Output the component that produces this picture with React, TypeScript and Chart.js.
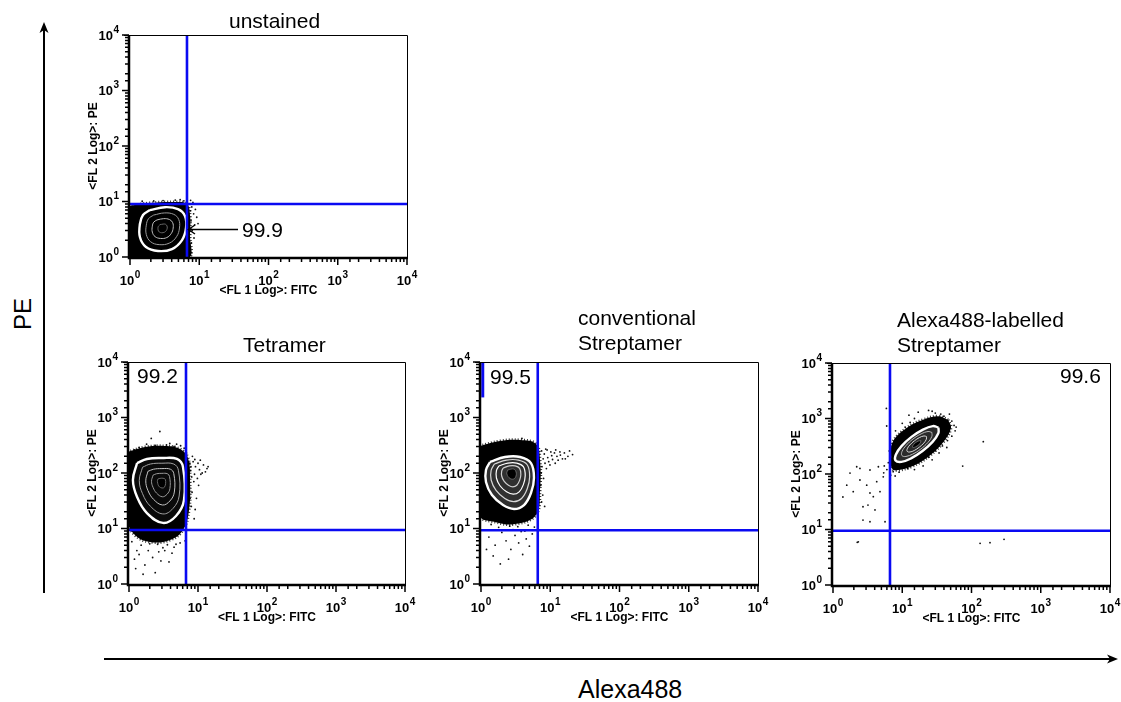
import React, { useEffect, useRef } from 'react';
import { Chart, registerables } from 'chart.js';

Chart.register(...registerables);

type Pt = [number, number];

// ---------------- data ----------------
const tickBase = '10';
const tickExponents = ['0', '1', '2', '3', '4'];
const axisMin = 1;
const axisMax = 10000;
const xAxisTitle = '<FL 1 Log>: FITC';
const yAxisTitle = '<FL 2 Log>: PE';
const panelTitles = [['unstained'], ['Tetramer'], ['conventional', 'Streptamer'], ['Alexa488-labelled', 'Streptamer']];
const quadrantPercents = ['99.9', '99.2', '99.5', '99.6'];
const gateFITC = [6.65, 6.7, 6.6, 6.65];
const gatePE = [9.0, 9.4, 9.3, 9.5];
const edgeBarPE = [2300, 10000];
const edgeBarFITC = 1.06;
const bigXLabel = 'Alexa488';
const bigYLabel = 'PE';

// panel 1: unstained
const p1Halo: Pt[] = [[0.95, 8.3], [1.94, 9.4], [4.47, 9.8], [6.65, 9.0], [7.35, 5.7], [7.35, 2.49], [6.88, 0.95], [0.95, 0.95]];
const p1Ring0: Pt[] = [[1.94, 7.0], [3.2, 7.9], [4.93, 7.3], [6.22, 5.5], [6.44, 3.33], [5.64, 2.02], [4.04, 1.39], [2.54, 1.28], [1.7, 1.51], [1.39, 2.29], [1.39, 3.93], [1.54, 5.7]];
const p1Ring1: Pt[] = [[2.19, 5.69], [3.13, 6.22], [4.28, 5.87], [5.05, 4.76], [5.18, 3.33], [4.7, 2.32], [3.7, 1.78], [2.64, 1.67], [1.99, 1.88], [1.72, 2.54], [1.72, 3.75], [1.85, 4.9]];
const p1Ring2: Pt[] = [[2.45, 4.65], [3.06, 4.91], [3.72, 4.73], [4.13, 4.16], [4.2, 3.32], [3.94, 2.65], [3.4, 2.24], [2.75, 2.16], [2.3, 2.33], [2.1, 2.81], [2.1, 3.58], [2.2, 4.24]];
const p1Core: Pt[] = [[2.72, 3.85], [3.27, 3.88], [3.45, 3.31], [3.14, 2.79], [2.64, 2.83], [2.54, 3.43]];
const p1Dots: Pt[] = [[7.8, 8], [8.3, 6], [7.6, 4.5], [8.8, 7.2], [7.9, 3], [8.4, 2.2], [7.7, 1.8], [9.2, 5.2], [8.1, 9.6], [7.5, 10.5], [6.0, 10.3], [4.5, 10.6], [3.0, 10.4], [2.2, 10.2], [1.5, 10.1], [5.3, 10.8], [7.6, 1.2], [8.6, 3.8], [7.5, 6.8], [9.6, 4.0]];

// panel 2: Tetramer
const p2Halo: Pt[] = [[0.95, 239], [1.71, 294], [3.32, 306], [5.48, 271], [7.16, 186], [7.66, 75], [7.41, 21.5], [6.06, 9.4], [3.93, 6.2], [2.01, 5.7], [1.22, 7.6], [0.95, 14.2]];
const p2Ring0: Pt[] = [[1.31, 151], [1.82, 179], [3.0, 186], [4.96, 179], [6.06, 128], [6.27, 32.6], [4.8, 16.8], [3.11, 12.6], [1.82, 19], [1.31, 37], [1.14, 75]];
const p2Ring1: Pt[] = [[1.57, 127], [2.04, 145], [3.0, 150], [4.45, 145], [5.2, 112], [5.33, 38.5], [4.33, 22.9], [3.09, 18.3], [2.04, 25.2], [1.57, 42.4], [1.41, 73.5]];
const p2Ring2: Pt[] = [[1.88, 107], [2.27, 117], [3.0, 120], [3.98, 117], [4.46, 97.5], [4.54, 45.4], [3.91, 31.3], [3.06, 26.5], [2.27, 33.5], [1.88, 48.6], [1.75, 72.1]];
const p2Ring3: Pt[] = [[2.23, 91.4], [2.51, 97], [3.0, 98.6], [3.6, 97], [3.87, 86.1], [3.92, 52.6], [3.56, 41.4], [3.04, 37.3], [2.51, 43.4], [2.23, 55.1], [2.12, 71]];
const p2Core: Pt[] = [[2.63, 78.2], [3.0, 80.7], [3.37, 76], [3.24, 55], [2.77, 56.1], [2.58, 69.8]];
const p2Dots: Pt[] = [[8.5, 160], [9.2, 130], [10.5, 115], [12, 140], [13.5, 120], [11, 95], [9.8, 80], [8.7, 70], [10.2, 60], [8.2, 45], [9.5, 35], [8.0, 25], [11.5, 100], [7.8, 110], [8.9, 95], [12.8, 105], [7.6, 150], [9.0, 175], [10, 150], [8.3, 200], [14, 130], [7.5, 55], [8.8, 15], [9.1, 22], [7.9, 130], [8.1, 85], [7.7, 35], [10.8, 170],
  [2.1, 420], [2.8, 560], [3.5, 320], [4.5, 300], [1.8, 330], [5.6, 310], [6.3, 280], [3.9, 340], [1.4, 290], [2.4, 315], [1.2, 260], [4.9, 330], [6.8, 230],
  [1.5, 5], [1.9, 4], [2.2, 3], [2.6, 5.2], [3.1, 4.5], [3.6, 5.1], [4.2, 3.6], [1.7, 2.2], [2.4, 1.6], [1.6, 1.5], [2.9, 2.6], [3.3, 4.0], [4.8, 5.2], [2.0, 5.3], [1.3, 4], [1.2, 2.8], [5.5, 5.5], [1.4, 3.4], [3.8, 2.5], [2.7, 3.8], [4.5, 4.6], [6.5, 6], [1.1, 5.8], [1.25, 1.9]];

// panel 3: conventional Streptamer
const p3Halo: Pt[] = [[0.95, 306], [1.88, 377], [3.66, 393], [6.22, 333], [7.11, 171], [7.11, 49], [6.22, 17.5], [3.1, 12], [1.59, 13.1], [0.95, 17.5]];
const p3Ring0: Pt[] = [[1.35, 158], [2.22, 194], [3.66, 194], [5.27, 151], [5.82, 81], [5.27, 43.6], [4.18, 26.5], [3.0, 22.5], [2.08, 26.5], [1.44, 40], [1.18, 69], [1.18, 113]];
const p3Ring1: Pt[] = [[1.56, 145], [2.33, 171], [3.47, 171], [4.65, 141], [5.04, 85.5], [4.65, 52], [3.85, 34.8], [2.96, 30.5], [2.21, 34.8], [1.65, 48.6], [1.4, 74.8], [1.4, 111]];
const p3Ring2: Pt[] = [[1.81, 134], [2.44, 151], [3.29, 151], [4.09, 130], [4.35, 89.7], [4.09, 61.8], [3.56, 45.8], [2.92, 41.5], [2.34, 45.8], [1.88, 58.9], [1.67, 81.3], [1.67, 110]];
const p3Ring3: Pt[] = [[2.09, 123], [2.56, 134], [3.12, 134], [3.61, 121], [3.76, 94.4], [3.61, 73.6], [3.29, 60.3], [2.88, 56.4], [2.49, 60.3], [2.15, 71.1], [1.99, 88.3], [1.99, 108]];
const p3Core: Pt[] = [[2.42, 113], [2.96, 118], [3.24, 99], [3.04, 79.3], [2.64, 79.3], [2.36, 95.9]];
const p3Dots: Pt[] = [[7.5, 250], [8.2, 220], [9.0, 260], [10.2, 240], [11.5, 230], [12.5, 200], [14, 210], [16, 230], [18, 200], [21, 215], [19, 250], [15, 180], [13, 170], [10.8, 175], [9.5, 160], [8.4, 150], [7.6, 130], [8.8, 120], [9.9, 140], [11.8, 150], [7.4, 100], [8.0, 80], [7.3, 60], [9.2, 190], [12, 260], [16.5, 180], [7.8, 40], [7.5, 30], [8.3, 25], [10.5, 205], [13.8, 240], [7.9, 180], [8.6, 270],
  [1.3, 7], [1.6, 5], [2.0, 8.5], [2.3, 6], [2.7, 4.2], [3.1, 7.5], [3.5, 5.5], [4.0, 3.4], [4.5, 6.5], [1.9, 2.3], [1.5, 3.2], [2.5, 2.8], [3.8, 8.8], [5.0, 4.8], [1.2, 4.2], [2.9, 9.5], [4.3, 9], [5.5, 8], [1.8, 10.5], [2.6, 11], [3.4, 10.8], [4.8, 11.5], [5.9, 10.6], [1.4, 11.8],
  [2.5, 330], [3.2, 310], [4.5, 350], [1.8, 320], [5.5, 300], [1.2, 290], [3.9, 420], [6.5, 280]];

// panel 4: Alexa488-labelled Streptamer
const p4Halo: Pt[] = [[46, 950], [50.5, 674], [39.2, 376], [24.3, 209], [13.7, 136], [8.15, 117], [7.0, 130], [6.9, 200], [7.28, 379], [11.7, 680], [20, 950], [33, 1100]];
const p4Ring0: Pt[] = [[33.3, 689], [33.2, 541], [27.4, 379], [19.6, 259], [13.4, 191], [9.7, 165], [8.0, 175], [8.07, 223], [9.75, 318], [13.6, 466], [19.9, 631], [27.6, 730]];
const p4Ring1: Pt[] = [[26.8, 561], [26.7, 473], [23.4, 369], [18.5, 282], [14.2, 229], [11.3, 207], [9.9, 215], [9.93, 255], [11.4, 327], [14.3, 427], [18.7, 527], [23.6, 583]];
const p4Ring2: Pt[] = [[22.4, 473], [22.3, 424], [20.5, 361], [17.6, 304], [14.9, 265], [12.9, 249], [11.8, 255], [11.8, 284], [12.9, 334], [15, 396], [17.7, 454], [20.6, 485]];
const p4Core: Pt[] = [[18.7, 398], [18, 353], [15.6, 308], [14.1, 303], [14.6, 341], [16.9, 392]];
const p4Dots: Pt[] = [[1.39, 38.5], [1.76, 104], [2.2, 135], [2.45, 78], [3.07, 63], [3.42, 45.5], [2.71, 25.7], [3.2, 27.6], [4.04, 22.5], [2.71, 14.8], [3.42, 13.8], [5.64, 13.8], [2.32, 6.0], [1.58, 63], [1.96, 48], [3.82, 39], [4.77, 48], [4.28, 72.8], [5.32, 89], [4.52, 135], [3.42, 118], [2.45, 126], [5.96, 733], [5.9, 1520], [148, 382], [74.6, 139], [133, 5.64], [185, 5.78], [295, 6.66], [2.24, 5.88],
  [17, 1300], [24, 1400], [30, 1250], [40, 1100], [52, 900], [56, 750], [58, 600], [52, 480], [45, 400], [38, 320], [30, 260], [24, 200], [17, 160], [12, 125], [9, 108], [7.4, 110], [7.3, 150], [7.2, 250], [7.8, 330], [8.6, 450], [9.8, 560], [11, 700], [13, 850], [15, 1000], [9, 150], [6.3, 160], [6, 120], [5.5, 140], [6.5, 260], [8, 600], [10, 820], [12.5, 1150], [27, 1350], [36, 1200], [60, 700], [48, 1200], [44, 300], [34, 240], [27, 180], [20, 140], [15, 120], [5.4, 105], [6.8, 95], [7.9, 92]];

// ---------------- drawing helpers ----------------
const FONT = '"Liberation Sans", Arial, Helvetica, sans-serif';
Chart.defaults.font.family = FONT;

const isDecade = (v: number) => {
  const e = Math.log10(v);
  return Math.abs(e - Math.round(e)) < 1e-6;
};

const toXY = (pts: Pt[]) => pts.map(([x, y]) => ({ x, y }));

function contour(pts: Pt[], stroke: string, width: number, fill: any, order: number, dash: number[] = []) {
  return {
    type: 'line',
    data: toXY([...pts, pts[0]]),
    borderColor: stroke,
    borderWidth: width,
    borderDash: dash,
    shapeColor: fill,
    fill: false,
    tension: 0.4,
    pointRadius: 0,
    pointHitRadius: 0,
    clip: 0,
    order,
  };
}

const shapeFillPlugin = {
  id: 'shapeFill',
  beforeDatasetDraw(chart: any, args: any) {
    const ds = chart.data.datasets[args.index];
    if (!ds.shapeColor) return;
    const line = args.meta.dataset;
    if (!line) return;
    const { ctx, chartArea: a } = chart;
    line.updateControlPoints(a, 'x');
    ctx.save();
    ctx.beginPath();
    ctx.rect(a.left, a.top, a.right - a.left, a.bottom - a.top);
    ctx.clip();
    ctx.beginPath();
    line.path(ctx);
    ctx.closePath();
    ctx.fillStyle = ds.shapeColor;
    ctx.fill();
    ctx.restore();
  },
};

const BASE_FONT = `bold 13px ${FONT}`;
const EXP_FONT = `bold 10px ${FONT}`;

const framePlugin = {
  id: 'frame',
  afterDatasetsDraw(chart: any) {
    const { ctx, chartArea: a, scales } = chart;
    ctx.save();
    ctx.strokeStyle = '#000';
    ctx.lineWidth = 1;
    ctx.beginPath();
    ctx.moveTo(a.left - 6, a.top + 0.5);
    ctx.lineTo(a.right + 0.5, a.top + 0.5);
    ctx.lineTo(a.right + 0.5, a.bottom);
    ctx.stroke();
    ctx.lineWidth = 2.5;
    ctx.beginPath();
    ctx.moveTo(a.left - 1, a.top);
    ctx.lineTo(a.left - 1, a.bottom + 1);
    ctx.lineTo(a.right + 1, a.bottom + 1);
    ctx.stroke();
    ctx.lineWidth = 1.5;
    ctx.beginPath();
    for (const t of scales.x.ticks) {
      const px = scales.x.getPixelForValue(t.value);
      const len = isDecade(t.value) ? 6 : 3;
      ctx.moveTo(px, a.bottom + 1);
      ctx.lineTo(px, a.bottom + 2 + len);
    }
    for (const t of scales.y.ticks) {
      const py = scales.y.getPixelForValue(t.value);
      const len = isDecade(t.value) ? 6 : 3;
      ctx.moveTo(a.left - 1, py);
      ctx.lineTo(a.left - 2 - len, py);
    }
    ctx.stroke();

    // decade tick labels: "10" with a raised exponent
    ctx.fillStyle = '#000';
    ctx.textBaseline = 'middle';
    ctx.textAlign = 'left';
    for (const t of scales.x.ticks) {
      if (!isDecade(t.value)) continue;
      const exp = tickExponents[Math.round(Math.log10(t.value))];
      const px = scales.x.getPixelForValue(t.value);
      ctx.font = BASE_FONT;
      const wb = ctx.measureText(tickBase).width;
      ctx.font = EXP_FONT;
      const we = ctx.measureText(exp).width;
      const x0 = px - (wb + we + 0.5) / 2;
      const yc = a.bottom + 24;
      ctx.font = BASE_FONT;
      ctx.fillText(tickBase, x0, yc);
      ctx.font = EXP_FONT;
      ctx.fillText(exp, x0 + wb + 0.5, yc - 6);
    }
    for (const t of scales.y.ticks) {
      if (!isDecade(t.value)) continue;
      const exp = tickExponents[Math.round(Math.log10(t.value))];
      const py = scales.y.getPixelForValue(t.value);
      ctx.font = BASE_FONT;
      const wb = ctx.measureText(tickBase).width;
      ctx.font = EXP_FONT;
      const we = ctx.measureText(exp).width;
      const right = a.left - 11;
      ctx.font = BASE_FONT;
      ctx.fillText(tickBase, right - we - 0.5 - wb, py + 1);
      ctx.font = EXP_FONT;
      ctx.fillText(exp, right - we, py - 5);
    }
    ctx.restore();
  },
};

function axis(kind: 'x' | 'y') {
  return {
    type: 'logarithmic',
    min: axisMin,
    max: axisMax,
    position: kind === 'x' ? 'bottom' : 'left',
    grid: { display: false, drawTicks: false },
    border: { display: false },
    ticks: {
      display: false,
      autoSkip: false,
      maxRotation: 0,
      minRotation: 0,
      callback: (v: any) => (isDecade(Number(v)) ? tickBase + tickExponents[Math.round(Math.log10(Number(v)))] : ''),
    },
    title: {
      display: true,
      text: kind === 'x' ? xAxisTitle : yAxisTitle,
      color: '#000',
      font: { size: 12, weight: 'bold', family: FONT },
      padding: kind === 'x' ? { top: 0, bottom: 5 } : { top: 8, bottom: 0 },
    },
    afterFit(s: any) {
      if (kind === 'x') {
        s.height = 46;
        s.paddingLeft = 0;
        s.paddingRight = 0;
      } else {
        s.width = 52;
        s.paddingTop = 0;
        s.paddingBottom = 0;
      }
    },
  };
}

type PanelSpec = {
  left: number; top: number; w: number; h: number;
  halo: Pt[]; rings: Pt[][]; core: Pt[]; dots: Pt[];
  interior: string; outerLine: string; ringColors: string[]; ringWidth: number;
  gateIndex: number; edgeBar?: boolean;
};

const GATE_BLUE = '#0a0af2';

function buildConfig(p: PanelSpec) {
  const datasets: any[] = [];
  datasets.push({
    type: 'scatter', data: toXY(p.dots), pointRadius: 0.9, pointBackgroundColor: '#111',
    pointBorderWidth: 0, showLine: false, clip: 0, order: 100,
  });
  datasets.push(contour(p.halo, 'rgba(0,0,0,0.8)', 3, '#000', 90, [1, 2]));
  p.rings.forEach((r, i) => {
    if (i === 0) datasets.push(contour(r, p.outerLine, 2.4, p.interior, 80));
    else datasets.push(contour(r, p.ringColors[i - 1], p.ringWidth, null, 80 - i * 5));
  });
  datasets.push(contour(p.core, '#666', 1, '#000', 40));
  const gx = gateFITC[p.gateIndex];
  const gy = gatePE[p.gateIndex];
  datasets.push({ type: 'line', data: toXY([[gx, axisMin], [gx, axisMax]]), borderColor: GATE_BLUE, borderWidth: 2.6, pointRadius: 0, clip: 0, order: 10 });
  datasets.push({ type: 'line', data: toXY([[axisMin, gy], [axisMax, gy]]), borderColor: GATE_BLUE, borderWidth: 2.6, pointRadius: 0, clip: 0, order: 10 });
  if (p.edgeBar) {
    datasets.push({ type: 'line', data: toXY([[edgeBarFITC, edgeBarPE[0]], [edgeBarFITC, edgeBarPE[1]]]), borderColor: GATE_BLUE, borderWidth: 3, pointRadius: 0, clip: 0, order: 5 });
  }
  return {
    type: 'scatter',
    data: { datasets },
    options: {
      responsive: false,
      maintainAspectRatio: false,
      animation: false,
      events: [],
      layout: { padding: { top: 12, right: 16, left: 0, bottom: 0 } },
      plugins: { legend: { display: false }, tooltip: { enabled: false }, title: { display: false } },
      scales: { x: axis('x'), y: axis('y') },
    },
    plugins: [shapeFillPlugin, framePlugin],
  };
}

const panels: PanelSpec[] = [
  { left: 78, top: 23, w: 345, h: 280, halo: p1Halo, rings: [p1Ring0, p1Ring1, p1Ring2], core: p1Core, dots: p1Dots,
    interior: '#000', outerLine: '#fff', ringColors: ['#9a9a9a', '#c0c0c0'], ringWidth: 1, gateIndex: 0 },
  { left: 77, top: 350, w: 344, h: 280, halo: p2Halo, rings: [p2Ring0, p2Ring1, p2Ring2, p2Ring3], core: p2Core, dots: p2Dots,
    interior: '#0a0a0a', outerLine: '#fff', ringColors: ['#a0a0a0', '#c4c4c4', '#9a9a9a'], ringWidth: 1, gateIndex: 1 },
  { left: 429, top: 350, w: 345, h: 280, halo: p3Halo, rings: [p3Ring0, p3Ring1, p3Ring2, p3Ring3], core: p3Core, dots: p3Dots,
    interior: '#303030', outerLine: '#fff', ringColors: ['#d8d8d8', '#ffffff', '#cfcfcf'], ringWidth: 1.2, gateIndex: 2, edgeBar: true },
  { left: 781, top: 351, w: 345, h: 280, halo: p4Halo, rings: [p4Ring0, p4Ring1, p4Ring2], core: p4Core, dots: p4Dots,
    interior: '#2a2a2a', outerLine: '#fff', ringColors: ['#b8b8b8', '#d8d8d8'], ringWidth: 1, gateIndex: 3 },
];

function Panel({ spec }: { spec: PanelSpec }) {
  const ref = useRef<HTMLCanvasElement>(null);
  useEffect(() => {
    const chart = new Chart(ref.current as HTMLCanvasElement, buildConfig(spec) as any);
    return () => chart.destroy();
  }, [spec]);
  return (
    <canvas ref={ref} width={spec.w} height={spec.h}
      style={{ position: 'absolute', left: spec.left, top: spec.top, width: spec.w, height: spec.h }} />
  );
}

const titlePos = [
  { left: 229, top: 8 },
  { left: 243, top: 332 },
  { left: 578, top: 305 },
  { left: 897, top: 307 },
];
const percentPos = [
  { left: 242, top: 217 },
  { left: 137, top: 363 },
  { left: 490, top: 364 },
  { left: 1060, top: 363 },
];

const textStyle: React.CSSProperties = {
  position: 'absolute', fontFamily: FONT, fontSize: 21, lineHeight: '25px', color: '#000', whiteSpace: 'nowrap', margin: 0,
};

export default function App() {
  return (
    <div style={{ position: 'absolute', left: 0, top: 0, width: 1121, height: 702, overflow: 'hidden', background: '#fff' }}>
      {panels.map((p, i) => <Panel key={i} spec={p} />)}
      {panelTitles.map((lines, i) => (
        <div key={'t' + i} style={{ ...textStyle, ...titlePos[i] }}>
          {lines.map((l, j) => <div key={j}>{l}</div>)}
        </div>
      ))}
      {quadrantPercents.map((t, i) => (
        <div key={'p' + i} style={{ ...textStyle, ...percentPos[i] }}>{t}</div>
      ))}
      <div style={{ ...textStyle, fontSize: 25, lineHeight: '30px', left: 578, top: 674 }}>{bigXLabel}</div>
      <div style={{ ...textStyle, fontSize: 24, lineHeight: '24px', left: 23, top: 314, transform: 'translate(-50%, -50%) rotate(-90deg)' }}>{bigYLabel}</div>
      <svg width={1121} height={702} style={{ position: 'absolute', left: 0, top: 0, pointerEvents: 'none' }}>
        <line x1={44} y1={30} x2={44} y2={593} stroke="#000" strokeWidth={2} />
        <polygon points="44,22 39.5,33 44,30 48.5,33" fill="#000" />
        <line x1={104} y1={659} x2={1110} y2={659} stroke="#000" strokeWidth={2} />
        <polygon points="1118,659 1107,654.5 1110,659 1107,663.5" fill="#000" />
        <line x1={190} y1={229.5} x2={238} y2={229.5} stroke="#000" strokeWidth={1.5} />
        <polyline points="195,225 188.5,229.5 195,234" fill="none" stroke="#000" strokeWidth={1.5} />
      </svg>
    </div>
  );
}
